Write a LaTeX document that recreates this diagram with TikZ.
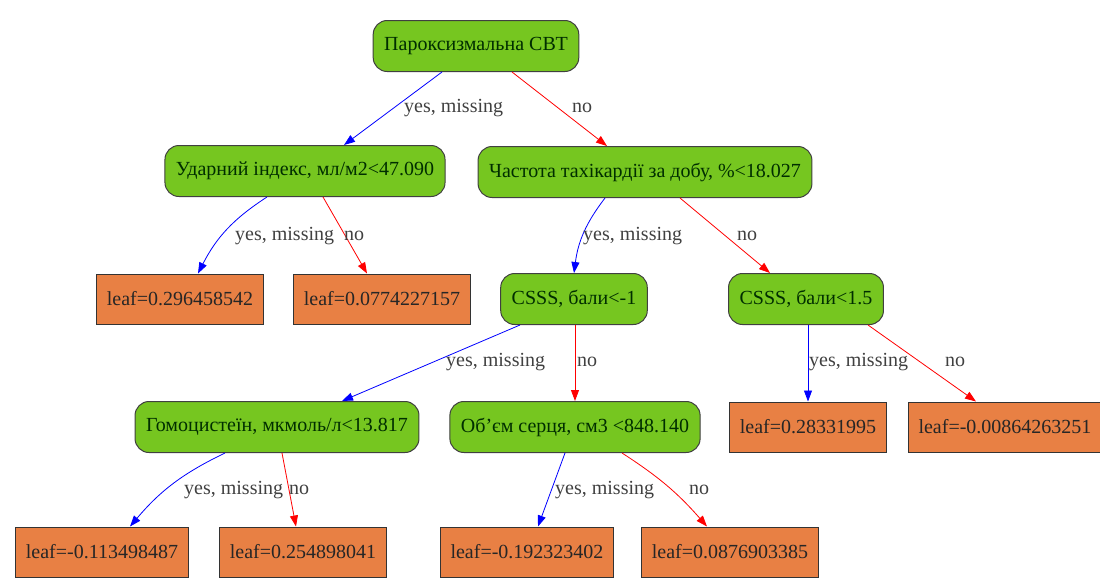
\documentclass[tikz,border=0pt]{standalone}
\usepackage{fontspec}
\setmainfont{Liberation Serif}
\usetikzlibrary{arrows.meta}

\definecolor{splitgreen}{RGB}{118,198,32}
\definecolor{leaforange}{RGB}{232,128,68}

\tikzset{
    split/.style={draw=black!75, fill=splitgreen, rounded corners=14pt, line width=1pt,
        minimum height=51pt, inner xsep=11pt, inner ysep=0pt, text=black!70!green!60!black},
    leaf/.style={draw=black!80, fill=leaforange, line width=1pt,
        minimum height=50pt, inner xsep=10pt, inner ysep=0pt, text=black!85},
    yesedge/.style={draw=blue, line width=0.8pt, -{Triangle[length=11pt,width=8pt]}},
    noedge/.style={draw=red, line width=0.8pt, -{Triangle[length=11pt,width=8pt]}},
    elabel/.style={anchor=west, inner sep=0pt, text=black!75}
}

\begin{document}
\begin{tikzpicture}[x=1pt, y=-1pt, font=\fontsize{20}{24}\selectfont]
    \useasboundingbox (0,0) rectangle (1100,579);

    % split nodes
    \node[split] (root) at (476,46) {Пароксизмальна СВТ};
    \node[split] (ud) at (305,171) {Ударний індекс, мл/м2<47.090};
    \node[split] (freq) at (645,172) {Частота тахікардії за добу, \%<18.027};
    \node[split] (csssA) at (574,299) {CSSS, бали<-1};
    \node[split] (csssB) at (806,299) {CSSS, бали<1.5};
    \node[split] (gomo) at (277,427) {Гомоцистеїн, мкмоль/л<13.817};
    \node[split] (obiem) at (575,427) {Об’єм серця, см3 <848.140};

    % leaves
    \node[leaf] (leafA) at (180,299) {leaf=0.296458542};
    \node[leaf] (leafB) at (382,299) {leaf=0.0774227157};
    \node[leaf] (leafC) at (808,427) {leaf=0.28331995};
    \node[leaf] (leafD) at (1005,427) {leaf=-0.00864263251};
    \node[leaf] (leafE) at (102,552) {leaf=-0.113498487};
    \node[leaf] (leafF) at (303,552) {leaf=0.254898041};
    \node[leaf] (leafG) at (527,552) {leaf=-0.192323402};
    \node[leaf] (leafH) at (730,552) {leaf=0.0876903385};

    % edges
    \draw[yesedge] ([xshift=-34pt]root.south) -- ([xshift=39pt]ud.north);
    \draw[noedge] ([xshift=36pt]root.south) -- ([xshift=-38pt]freq.north);
    \draw[yesedge] ([xshift=-38pt]ud.south) to[bend right=15] ([xshift=18pt]leafA.north);
    \draw[noedge] ([xshift=18pt]ud.south) -- ([xshift=-15pt]leafB.north);
    \draw[yesedge] ([xshift=-40pt]freq.south) to[bend right=15] (csssA.north);
    \draw[noedge] ([xshift=35pt]freq.south) -- ([xshift=-36pt]csssB.north);
    \draw[yesedge] ([xshift=-54pt]csssA.south) -- ([xshift=65pt]gomo.north);
    \draw[noedge] ([xshift=1pt]csssA.south) -- (obiem.north);
    \draw[yesedge] ([xshift=2pt]csssB.south) -- (leafC.north);
    \draw[noedge] ([xshift=62pt]csssB.south) -- ([xshift=-29pt]leafD.north);
    \draw[yesedge] ([xshift=-52pt]gomo.south) to[bend right=12] ([xshift=28pt]leafE.north);
    \draw[noedge] ([xshift=5pt]gomo.south) -- ([xshift=-7pt]leafF.north);
    \draw[yesedge] ([xshift=-10pt]obiem.south) -- ([xshift=11pt]leafG.north);
    \draw[noedge] ([xshift=47pt]obiem.south) to[bend left=8] ([xshift=-23pt]leafH.north);

    % edge labels
    \node[elabel] (yesRoot) at (404,108) {yes, missing};
    \node[elabel] (noRoot) at (572,108) {no};
    \node[elabel] (yesUd) at (235,236) {yes, missing};
    \node[elabel] (noUd) at (344,236) {no};
    \node[elabel] (yesFreq) at (583,236) {yes, missing};
    \node[elabel] (noFreq) at (737,236) {no};
    \node[elabel] (yesCsssA) at (446,362) {yes, missing};
    \node[elabel] (noCsssA) at (577,362) {no};
    \node[elabel] (yesCsssB) at (809,362) {yes, missing};
    \node[elabel] (noCsssB) at (945,362) {no};
    \node[elabel] (yesGomo) at (184,490) {yes, missing};
    \node[elabel] (noGomo) at (289,490) {no};
    \node[elabel] (yesObiem) at (555,490) {yes, missing};
    \node[elabel] (noObiem) at (689,490) {no};
\end{tikzpicture}
\end{document}
